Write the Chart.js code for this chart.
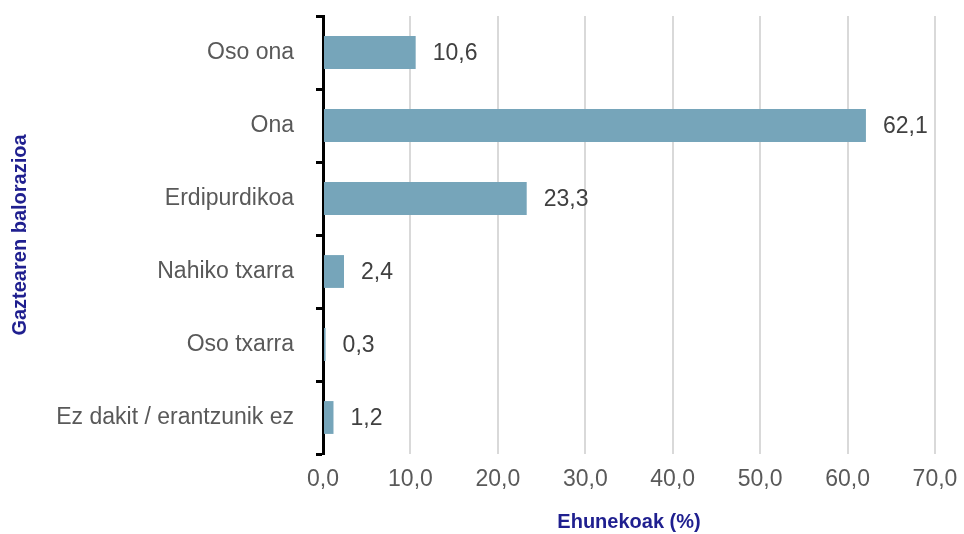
<!DOCTYPE html>
<html>
<head>
<meta charset="utf-8">
<script src="https://cdn.jsdelivr.net/npm/chart.js@4/dist/chart.umd.min.js"></script>
<style>
  body { margin: 0; background: #fff; }
  #wrap { width: 964px; height: 534px; position: relative; }
</style>
</head>
<body>
<div id="wrap"><canvas id="myChart"></canvas></div>
<script>
// Data
var categories = ['Oso ona', 'Ona', 'Erdipurdikoa', 'Nahiko txarra', 'Oso txarra', 'Ez dakit / erantzunik ez'];
var percents = [10.6, 62.1, 23.3, 2.4, 0.3, 1.2];
var xTitle = 'Ehunekoak (%)';
var yTitle = 'Gaztearen balorazioa';

var fam = '"Liberation Sans", Arial, sans-serif';

function fmt(v) {
  return v.toFixed(1).replace('.', ',');
}

// labels at the end of the bars
var barLabels = {
  id: 'barLabels',
  afterDatasetsDraw: function(chart) {
    var ctx = chart.ctx;
    var meta = chart.getDatasetMeta(0);
    ctx.save();
    ctx.font = '23px ' + fam;
    ctx.fillStyle = '#404040';
    ctx.textAlign = 'left';
    ctx.textBaseline = 'middle';
    meta.data.forEach(function(bar, i) {
      ctx.fillText(fmt(percents[i]), bar.x + 17, bar.y + 1);
    });
    ctx.restore();
  }
};

var ctx = document.getElementById('myChart');
var myChart = new Chart(ctx, {
  type: 'bar',
  data: {
    labels: categories,
    datasets: [
      {
        data: percents,
        backgroundColor: 'rgb(118, 165, 186)',
        barPercentage: 0.45,
        categoryPercentage: 1
      }
    ]
  },
  options: {
    indexAxis: 'y',
    responsive: true,
    maintainAspectRatio: false,
    animation: false,
    layout: { padding: { left: 0, right: 29, top: 16, bottom: 0 } },
    plugins: {
      legend: { display: false },
      tooltip: { enabled: false }
    },
    scales: {
      x: {
        min: 0,
        max: 70,
        afterFit: function(s) { s.height = 80; s.paddingLeft = 0; s.paddingRight = 0; },
        ticks: {
          stepSize: 10,
          padding: 12,
          color: '#595959',
          font: { family: fam, size: 23 },
          callback: function(v) { return fmt(v); }
        },
        grid: { color: '#d9d9d9', lineWidth: 2, drawTicks: false },
        border: { display: false },
        title: {
          display: true,
          text: xTitle,
          color: '#1f1f8f',
          padding: { top: 0, bottom: 0 },
          font: { family: fam, size: 20, weight: 'bold' }
        }
      },
      y: {
        afterFit: function(s) { s.width = 323; s.paddingTop = 0; s.paddingBottom = 0; },
        ticks: {
          padding: 22,
          color: '#595959',
          font: { family: fam, size: 23 }
        },
        grid: { drawOnChartArea: false, color: '#000', tickLength: 7, tickWidth: 3 },
        border: { color: '#000', width: 3 },
        title: {
          display: true,
          text: yTitle,
          color: '#1f1f8f',
          padding: { top: 8, bottom: 0 },
          font: { family: fam, size: 20, weight: 'bold' }
        }
      }
    }
  },
  plugins: [barLabels]
});
</script>
</body>
</html>
